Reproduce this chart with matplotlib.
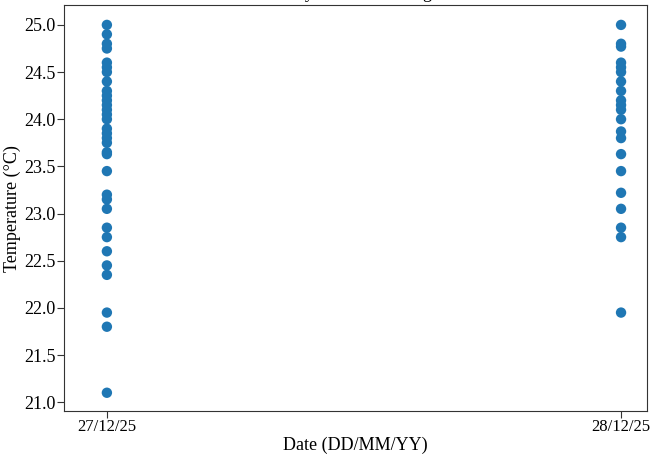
import numpy as np
import matplotlib
matplotlib.use("Agg")
import matplotlib.pyplot as plt

plt.rcParams["font.family"] = ["Liberation Serif", "DejaVu Serif"]

# readings per day
DATES = ["27/12/25", "28/12/25"]

TEMPS_DAY1 = [25.0, 24.9, 24.8, 24.75, 24.6, 24.55, 24.5, 24.4, 24.3, 24.25,
              24.2, 24.15, 24.1, 24.05, 24.0, 23.9, 23.85, 23.8, 23.75, 23.65,
              23.63, 23.45, 23.2, 23.15, 23.05, 22.85, 22.75, 22.6, 22.45,
              22.35, 21.95, 21.8, 21.1]

TEMPS_DAY2 = [25.0, 24.8, 24.77, 24.6, 24.55, 24.5, 24.4, 24.3, 24.2, 24.15,
              24.1, 24.0, 23.87, 23.8, 23.63, 23.45, 23.22, 23.05, 22.85,
              22.75, 21.95]

COLOR = "#1f77b4"

fig = plt.figure(figsize=(6.5, 4.63), dpi=100)
ax = fig.add_axes([0.098, 0.112, 0.897, 0.877])

for i, temps in enumerate([TEMPS_DAY1, TEMPS_DAY2]):
    ax.scatter(np.full(len(temps), i), temps, s=56, color=COLOR,
               edgecolors="none", zorder=3)

yticks = np.arange(21.0, 25.01, 0.5)
ax.set_xticks(range(len(DATES)))
ax.set_xticklabels(DATES, fontsize=12)
ax.set_xlim(-0.084, 1.05)
ax.set_ylim(20.905, 25.21)
ax.set_yticks(yticks)
ax.set_yticklabels([f"{v:.1f}" for v in yticks], fontsize=13)
ax.tick_params(length=5, pad=1, color="#333333")

ax.set_xlabel("Date (DD/MM/YY)", fontsize=13, labelpad=1)
ax.set_ylabel("Temperature (\u00b0C)", fontsize=13, labelpad=2)

for sp in ax.spines.values():
    sp.set_color("#333333")

# title sits just above the canvas, only its descenders show
fig.text(0.548, 1.004, "Daily Sensor Readings", ha="center", va="baseline",
         fontsize=13)

fig.savefig("out.png", dpi=100, facecolor="white")
